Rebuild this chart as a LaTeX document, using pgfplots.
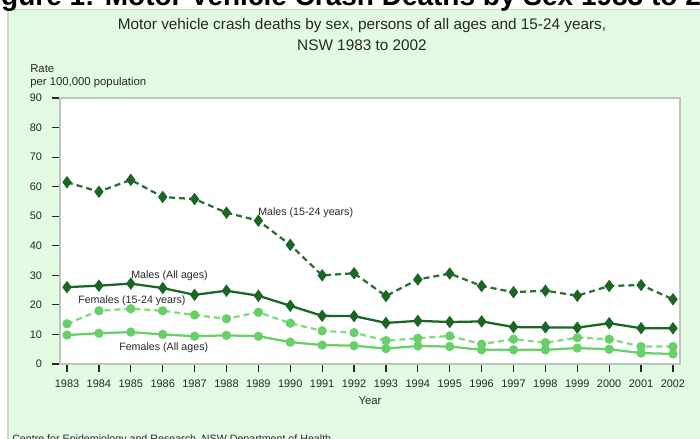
\documentclass[border=0pt]{standalone}
\usepackage{fontspec}
\setmainfont{Liberation Sans}
\usepackage{pgfplots}
\pgfplotsset{compat=1.18}
\definecolor{panel}{RGB}{226,251,226}
\definecolor{panelborder}{RGB}{196,222,196}
\definecolor{frame}{RGB}{185,200,185}
\definecolor{dgreen}{RGB}{28,102,36}
\definecolor{dgreenl}{RGB}{45,110,55}
\definecolor{lgreen}{RGB}{105,208,105}
\definecolor{lgreenl}{RGB}{130,218,130}
\definecolor{txt}{RGB}{40,40,40}
\begin{document}
\begin{tikzpicture}
\begin{scope}[x=0.75pt,y=0.75pt]
\path[use as bounding box] (0,0) rectangle (700,439);
\fill[white] (0,0) rectangle (700,439);
\fill[panel,draw=panelborder,line width=0.8pt] (8,-5) rectangle (705,429.5);
% clipped figure heading
\node[anchor=base west,inner sep=0,font=\bfseries\fontsize{21}{23}\selectfont,text=black] at (-24,433) {Figure 1: Motor Vehicle Crash Deaths by Sex 1983 to 2002};
\node[anchor=base,inner sep=0,font=\fontsize{11.5}{13}\selectfont,text=txt] at (362,409) {Motor vehicle crash deaths by sex, persons of all ages and 15-24 years,};
\node[anchor=base,inner sep=0,font=\fontsize{11.5}{13}\selectfont,text=txt] at (362,388) {NSW 1983 to 2002};
\node[anchor=base west,inner sep=0,font=\fontsize{8.5}{10}\selectfont,text=txt] at (30,366) {Rate};
\node[anchor=base west,inner sep=0,font=\fontsize{8.5}{10}\selectfont,text=txt] at (30,353) {per 100,000 population};
\node[anchor=base,inner sep=0,font=\fontsize{8.5}{10}\selectfont,text=txt] at (370,34) {Year};
\node[anchor=base west,inner sep=0,font=\fontsize{8}{10}\selectfont,text=txt] at (12,-4) {Centre for Epidemiology and Research, NSW Department of Health};
\end{scope}
\begin{axis}[
  at={(45pt,56.25pt)}, anchor=south west,
  width=465pt, height=199.5pt, scale only axis,
  xmin=1982.78, xmax=2002.22, ymin=0, ymax=90,
  axis background/.style={fill=white},
  axis line style={frame,line width=0.9pt},
  xtick={1983,...,2002}, ytick={0,10,...,90},
  xticklabel style={/pgf/number format/1000 sep={}},
  /pgf/number format/assume math mode=true,
  tick align=outside, tick pos=left,
  major tick length=6pt,
  tick style={txt,line width=0.9pt},
  ticklabel style={font=\fontsize{8.2}{10}\selectfont,text=txt},
  yticklabel style={xshift=-4pt},
  xticklabel style={yshift=-2pt},
  clip=false,
]
\addplot[dgreenl,line width=1.7pt,dash pattern=on 4.5pt off 3pt,mark=diamond*,mark size=3.3pt,mark options={solid,fill=dgreen,draw=dgreen}] coordinates {
(1983,61.5)(1984,58.3)(1985,62.3)(1986,56.5)(1987,55.8)(1988,51.2)(1989,48.5)(1990,40.3)(1991,30.0)(1992,30.7)
(1993,23.0)(1994,28.6)(1995,30.6)(1996,26.4)(1997,24.3)(1998,24.8)(1999,23.1)(2000,26.4)(2001,26.7)(2002,21.9)};
\addplot[dgreen,line width=1.7pt,mark=diamond*,mark size=3.3pt,mark options={solid,fill=dgreen,draw=dgreen}] coordinates {
(1983,26.0)(1984,26.5)(1985,27.2)(1986,25.7)(1987,23.4)(1988,24.8)(1989,23.1)(1990,19.7)(1991,16.3)(1992,16.2)
(1993,13.9)(1994,14.6)(1995,14.2)(1996,14.4)(1997,12.5)(1998,12.4)(1999,12.3)(2000,13.8)(2001,12.1)(2002,12.1)};
\addplot[lgreenl,line width=1.7pt,dash pattern=on 4.5pt off 3pt,mark=*,mark size=2.6pt,mark options={solid,fill=lgreen,draw=lgreen}] coordinates {
(1983,13.6)(1984,18.0)(1985,18.7)(1986,18.0)(1987,16.6)(1988,15.3)(1989,17.5)(1990,13.8)(1991,11.2)(1992,10.6)
(1993,7.9)(1994,8.7)(1995,9.5)(1996,6.7)(1997,8.4)(1998,7.2)(1999,8.9)(2000,8.4)(2001,5.9)(2002,5.9)};
\addplot[lgreen,line width=1.7pt,mark=*,mark size=2.6pt,mark options={solid,fill=lgreen,draw=lgreen}] coordinates {
(1983,9.8)(1984,10.4)(1985,10.8)(1986,10.0)(1987,9.4)(1988,9.7)(1989,9.4)(1990,7.4)(1991,6.4)(1992,6.2)
(1993,5.2)(1994,6.1)(1995,5.9)(1996,4.8)(1997,4.8)(1998,4.8)(1999,5.4)(2000,5.0)(2001,3.7)(2002,3.4)};
\end{axis}
\begin{scope}[x=0.75pt,y=0.75pt]
\node[anchor=west,inner sep=0,font=\fontsize{8}{10}\selectfont,text=txt] at (258,226) {Males (15-24 years)};
\node[anchor=west,inner sep=0,font=\fontsize{8}{10}\selectfont,text=txt] at (131,163) {Males (All ages)};
\node[anchor=west,inner sep=0,font=\fontsize{8}{10}\selectfont,text=txt] at (78,138) {Females (15-24 years)};
\node[anchor=west,inner sep=0,font=\fontsize{8}{10}\selectfont,text=txt] at (119,91.5) {Females (All ages)};
\end{scope}
\end{tikzpicture}
\end{document}
